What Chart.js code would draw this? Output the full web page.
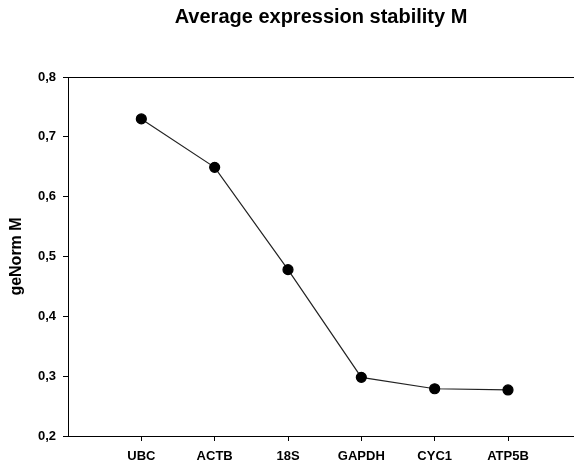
<!DOCTYPE html>
<html>
<head>
<meta charset="utf-8">
<script src="https://cdn.jsdelivr.net/npm/chart.js@4.4.1/dist/chart.umd.min.js"></script>
<style>
html,body{margin:0;padding:0;background:#fff;}
#wrap{width:574px;height:466px;position:relative;}
</style>
</head>
<body>
<div id="wrap"><canvas id="c" width="574" height="466"></canvas></div>
<script>
const chartTitle = "Average expression stability M";
const yAxisTitle = "geNorm M";
const categories = ["UBC", "ACTB", "18S", "GAPDH", "CYC1", "ATP5B"];
const mValues = [0.730, 0.649, 0.478, 0.298, 0.279, 0.277];
const yTicks = [0.2, 0.3, 0.4, 0.5, 0.6, 0.7, 0.8];

const FONT = "'Liberation Sans', Arial, Helvetica, sans-serif";

const points = categories.map((c, i) => ({x: i + 1, y: mValues[i]}));

const titlePlugin = {
  id: 'centerTitle',
  afterDraw(chart) {
    const ctx = chart.ctx, a = chart.chartArea;
    ctx.save();
    ctx.fillStyle = '#000';
    ctx.font = "bold 20px " + FONT;
    ctx.textAlign = 'center';
    ctx.textBaseline = 'alphabetic';
    ctx.fillText(chartTitle, (a.left + a.right) / 2, 23);
    ctx.restore();
  }
};

new Chart(document.getElementById('c'), {
  type: 'line',
  data: {
    datasets: [{
      data: points,
      borderColor: '#222',
      borderWidth: 1.2,
      pointBackgroundColor: '#000',
      pointBorderColor: '#000',
      pointRadius: 5,
      pointHoverRadius: 5,
      tension: 0,
      fill: false
    }]
  },
  options: {
    responsive: false,
    animation: false,
    layout: {autoPadding: false, padding: {top: 77, right: 0, left: 0, bottom: 0}},
    plugins: {legend: {display: false}, tooltip: {enabled: false}, title: {display: false}},
    scales: {
      x: {
        type: 'linear',
        min: 0,
        max: 6.9,
        afterBuildTicks(axis) { axis.ticks = categories.map((c, i) => ({value: i + 1})); },
        afterFit(axis) { axis.height = 30; },
        ticks: {
          callback: (v) => categories[v - 1] || '',
          color: '#000',
          font: {family: FONT, size: 13, weight: 'bold'},
          padding: 8,
          maxRotation: 0,
          autoSkip: false
        },
        grid: {display: true, drawOnChartArea: false, drawTicks: true, tickLength: 5, tickColor: '#000', color: '#000'},
        border: {display: true, color: '#000', width: 1}
      },
      y: {
        type: 'linear',
        min: 0.2,
        max: 0.8,
        afterBuildTicks(axis) { axis.ticks = yTicks.map(v => ({value: v})); },
        afterFit(axis) { axis.width = 68; },
        ticks: {
          callback: (v) => v.toFixed(1).replace('.', ','),
          color: '#000',
          font: {family: FONT, size: 13, weight: 'bold'},
          padding: 7
        },
        title: {
          display: true,
          text: yAxisTitle,
          color: '#000',
          font: {family: FONT, size: 16, weight: 'bold'},
          padding: {top: 7, bottom: 0}
        },
        grid: {
          display: true,
          drawOnChartArea: true,
          drawTicks: true,
          tickLength: 5,
          tickColor: '#000',
          color: (ctx) => (ctx.tick && Math.abs(ctx.tick.value - 0.8) < 1e-9) ? '#000' : 'rgba(0,0,0,0)'
        },
        border: {display: true, color: '#000', width: 1}
      }
    }
  },
  plugins: [titlePlugin]
});
</script>
</body>
</html>
